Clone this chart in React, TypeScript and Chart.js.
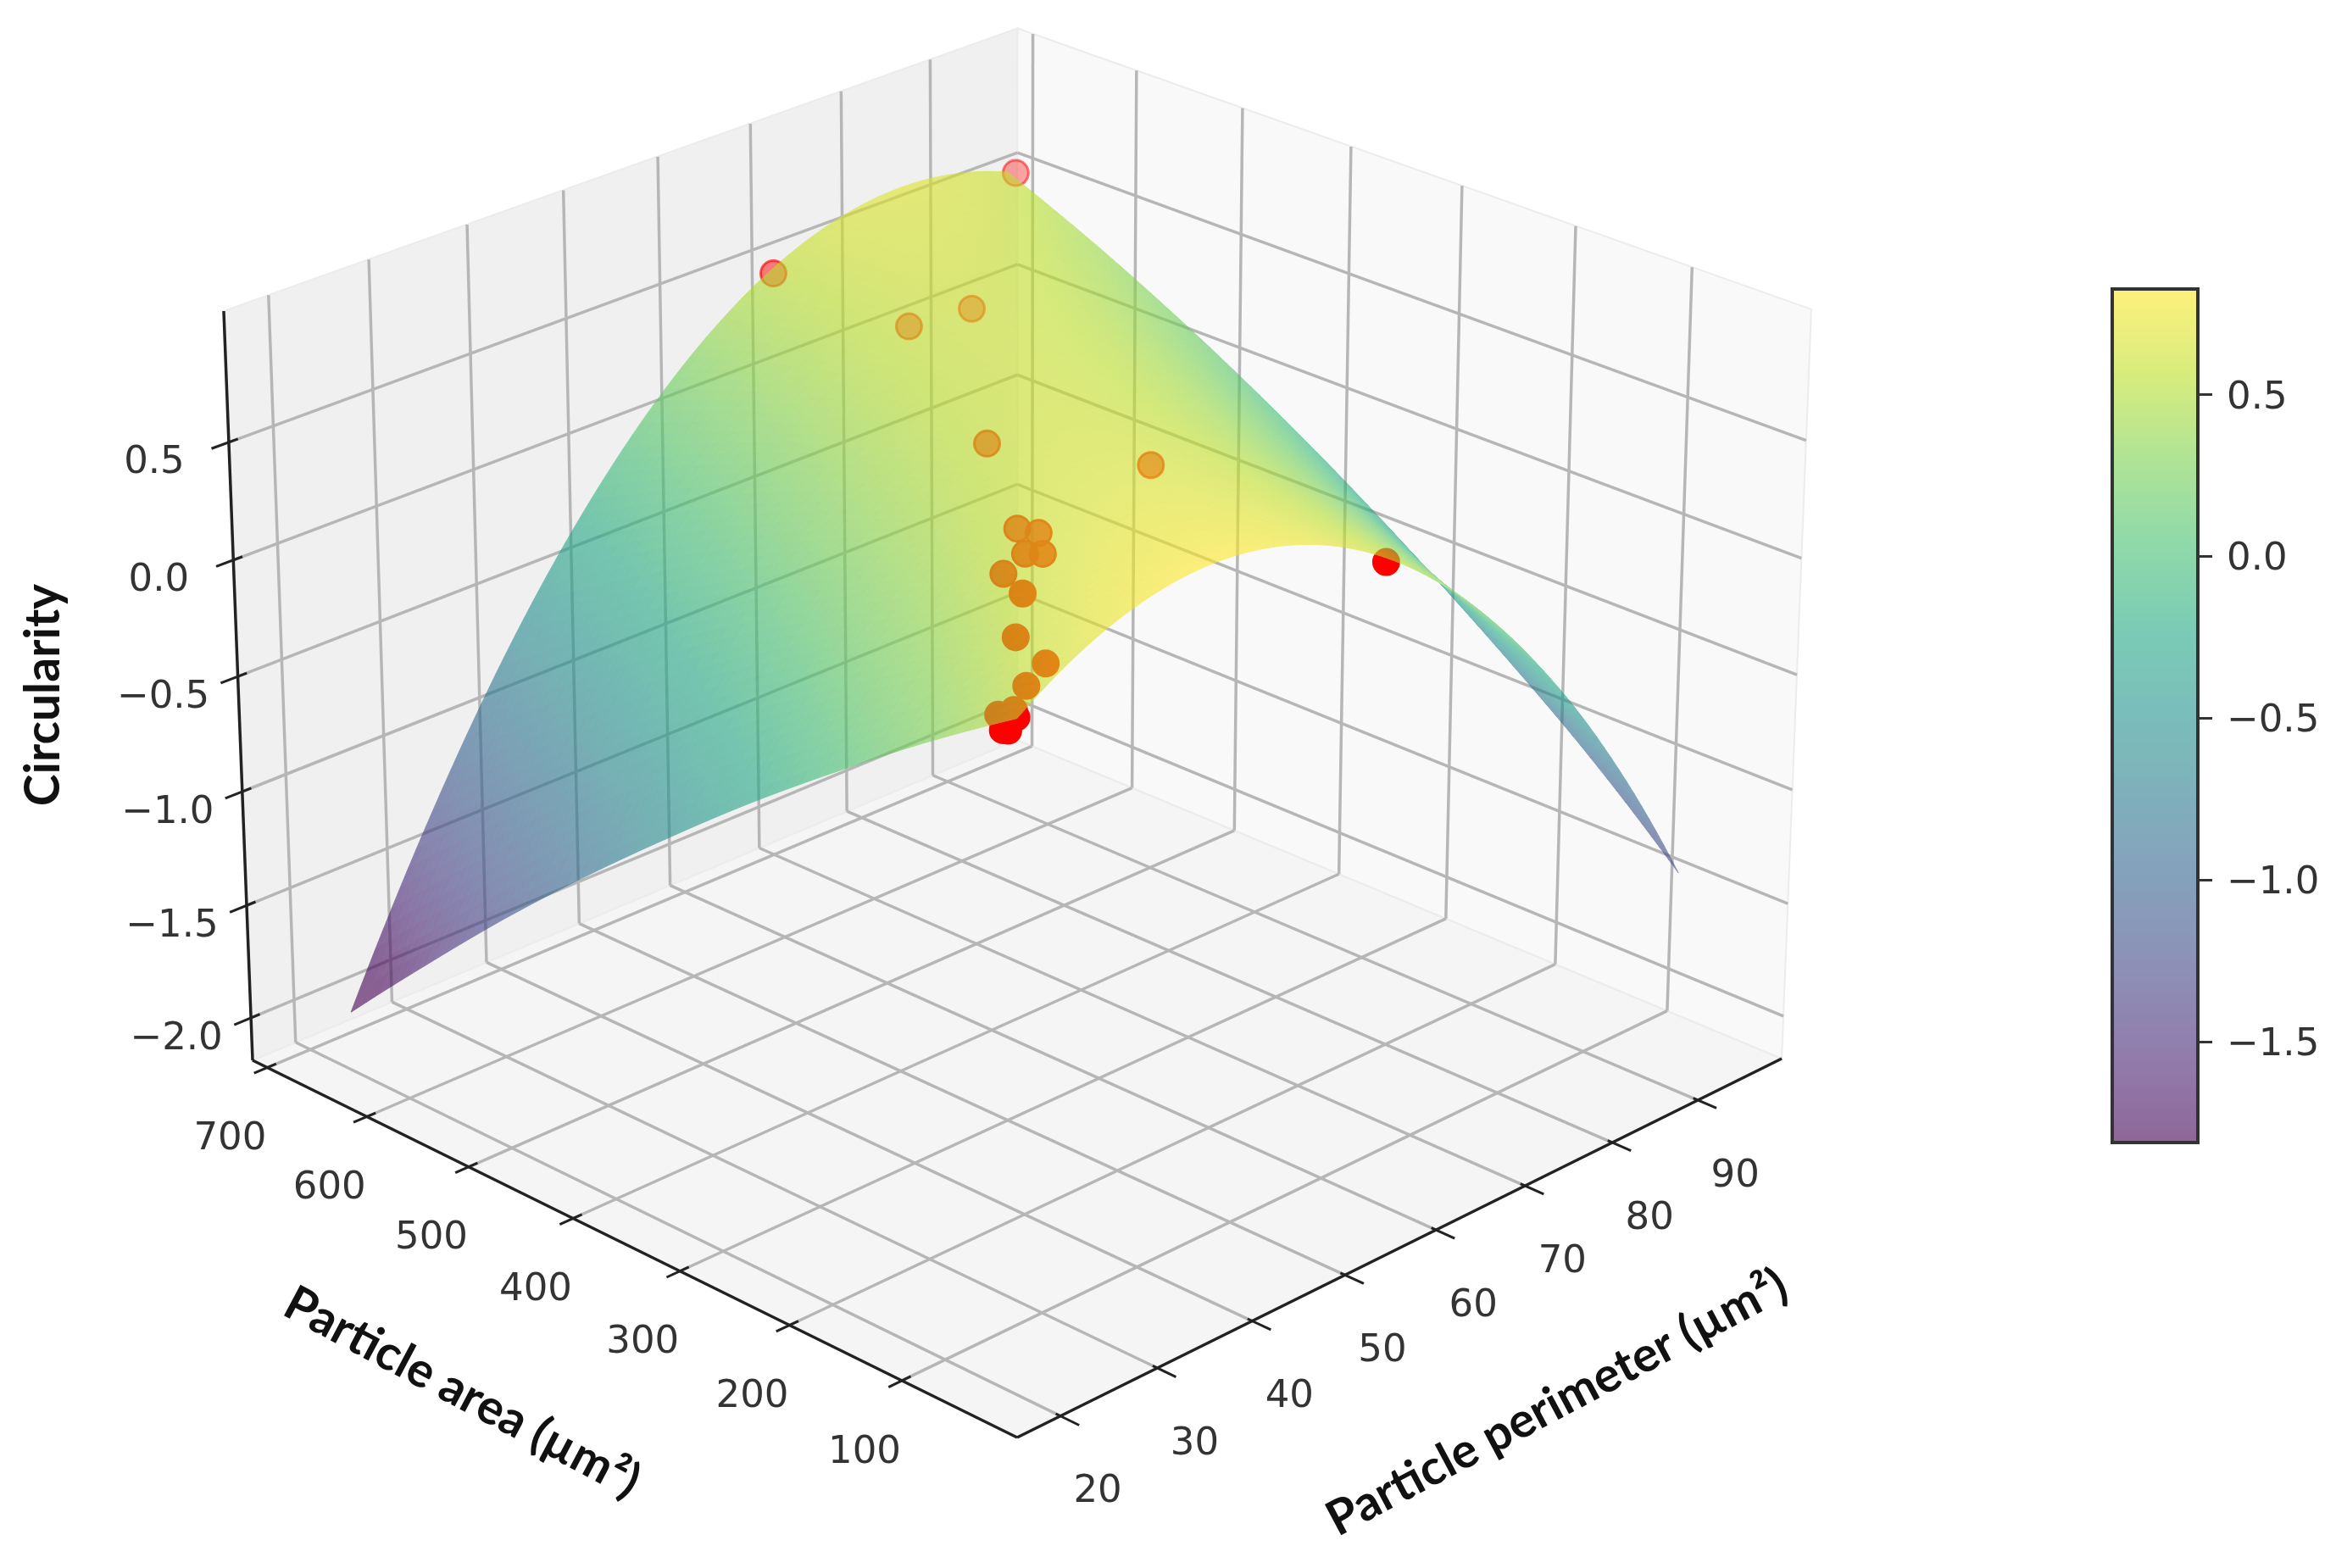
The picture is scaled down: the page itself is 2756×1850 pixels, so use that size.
import React, { useEffect, useRef } from "react";
import { Chart, registerables } from "chart.js";

Chart.register(...registerables);

const perimeterLimits = [15.6, 100];
const areaLimits = [0, 715];
const circularityLimits = [-2.19, 1.05];
const perimeterTicks = [20, 30, 40, 50, 60, 70, 80, 90];
const areaTicks = [100, 200, 300, 400, 500, 600, 700];
const circularityTicks = [-2, -1.5, -1, -0.5, 0, 0.5];
const colorbarTicks = [-1.5, -1, -0.5, 0, 0.5];
const colorLimits = [-1.81, 0.827];

const gridPerimeter = [21, 30, 39, 48, 57, 66, 75, 84, 93.2];
const gridArea = [46, 124, 201, 279, 356, 434, 512, 589, 667];
// rows follow gridPerimeter, columns follow gridArea
const gridCircularity = [
  [0.537, 0.287, 0.018, -0.268, -0.572, -0.894, -1.235, -1.594, -1.97],
  [0.746, 0.564, 0.363, 0.143, -0.095, -0.351, -0.626, -0.92, -1.232],
  [0.83, 0.717, 0.584, 0.432, 0.262, 0.073, -0.136, -0.364, -0.611],
  [0.787, 0.743, 0.68, 0.597, 0.494, 0.371, 0.229, 0.068, -0.113],
  [0.619, 0.646, 0.652, 0.638, 0.604, 0.55, 0.476, 0.382, 0.267],
  [0.325, 0.423, 0.5, 0.555, 0.591, 0.606, 0.6, 0.574, 0.527],
  [-0.095, 0.074, 0.223, 0.35, 0.456, 0.54, 0.603, 0.646, 0.667],
  [-0.64, -0.398, -0.178, 0.021, 0.197, 0.352, 0.486, 0.597, 0.688],
  [-1.34, -0.996, -0.703, -0.432, -0.184, 0.043, 0.248, 0.429, 0.589],
];

const samplePerimeter = [92.6, 67, 80, 85, 75, 85, 68, 70, 62, 65, 60, 55, 48, 45, 38, 30, 27, 24, 22, 23, 57.6];
const sampleArea = [654, 667, 650, 632, 532, 461, 444, 441, 386, 395, 389, 329, 276, 224, 182, 125, 113, 72, 62, 75, 35];
const sampleCircularity = [0.616, 0.525, 0.13, 0.165, -0.1, -0.22, -0.2, -0.245, -0.105, -0.17, -0.165, -0.055, -0.025, 0.015, 0.12, 0.265, 0.32, 0.44, 0.44, 0.4, 0.59];

const viridis = [
  [68, 1, 84], [72, 36, 117], [65, 68, 135], [53, 95, 141], [42, 120, 142], [33, 145, 140],
  [34, 168, 132], [68, 191, 112], [122, 209, 81], [189, 223, 38], [253, 231, 37],
];

function cmap(f: number) {
  const x = Math.max(0, Math.min(1, f)) * (viridis.length - 1);
  const i = Math.min(viridis.length - 2, Math.floor(x));
  const k = x - i;
  return viridis[i].map((c, n) => Math.round(c + (viridis[i + 1][n] - c) * k));
}

function norm(P: number, A: number, z: number) {
  return [
    (P - perimeterLimits[0]) / (perimeterLimits[1] - perimeterLimits[0]),
    (A - areaLimits[0]) / (areaLimits[1] - areaLimits[0]),
    (z - circularityLimits[0]) / (circularityLimits[1] - circularityLimits[0]),
  ];
}

// camera of the 3D box, giving the value plotted on the chart's x and y scales
function project(P: number, A: number, z: number) {
  const [u, v, t] = norm(P, A, z);
  const w = 1 + 0.0915 * u + 0.0915 * v - 0.0402 * t;
  return {
    x: (1094.4 * u - 874.7 * v + 1200 - 47.8 * t) / w,
    y: (-332.7 * u - 330.5 * v + 1696 - 979.7 * t) / w - 13 * u * v * t,
  };
}

const [Pa, Pb] = perimeterLimits;
const [Aa, Ab] = areaLimits;
const [Za, Zb] = circularityLimits;

function lineSet(a: number[], b: number[], color: string, width: number) {
  return {
    data: [project(a[0], a[1], a[2]), project(b[0], b[1], b[2])],
    showLine: true,
    borderColor: color,
    borderWidth: width,
    pointRadius: 0,
    fill: false,
  };
}

const GRID = "#b6b6b6";
const AXIS = "#222222";
const TEXT = "#333333";
const TICK_FAMILY = '"DejaVu Sans", Inter, sans-serif';
const fmt = (v: number) => (v < 0 ? "\u2212" : "") + Math.abs(v).toFixed(1);

function catmull(a: number, b: number, c: number, d: number, s: number) {
  return 0.5 * (2 * b + (c - a) * s + (2 * a - 5 * b + 4 * c - d) * s * s + (3 * b - a - 3 * c + d) * s * s * s);
}

function gridAt(r: number, c: number) {
  const n = gridCircularity.length - 1;
  const m = gridCircularity[0].length - 1;
  const g = (i: number, j: number): number => {
    if (i < 0) return 3 * g(0, j) - 3 * g(1, j) + g(2, j);
    if (i > n) return 3 * g(n, j) - 3 * g(n - 1, j) + g(n - 2, j);
    if (j < 0) return 3 * g(i, 0) - 3 * g(i, 1) + g(i, 2);
    if (j > m) return 3 * g(i, m) - 3 * g(i, m - 1) + g(i, m - 2);
    return gridCircularity[i][j];
  };
  const i = Math.min(n - 1, Math.floor(r));
  const j = Math.min(m - 1, Math.floor(c));
  const sr = r - i;
  const sc = c - j;
  const col = [-1, 0, 1, 2].map((d) => catmull(g(i + d, j - 1), g(i + d, j), g(i + d, j + 1), g(i + d, j + 2), sc));
  return catmull(col[0], col[1], col[2], col[3], sr);
}

function along(values: number[], s: number) {
  const i = Math.min(values.length - 2, Math.floor(s));
  return values[i] + (values[i + 1] - values[i]) * (s - i);
}

const panesPlugin = {
  id: "panes",
  beforeDatasetsDraw(chart: any) {
    const { ctx, scales } = chart;
    const panes: [number[][], string][] = [
      [[[Pa, Aa, Za], [Pb, Aa, Za], [Pb, Ab, Za], [Pa, Ab, Za]], "#f5f5f5"],
      [[[Pa, Ab, Za], [Pb, Ab, Za], [Pb, Ab, Zb], [Pa, Ab, Zb]], "#f0f0f0"],
      [[[Pb, Aa, Za], [Pb, Ab, Za], [Pb, Ab, Zb], [Pb, Aa, Zb]], "#f9f9f9"],
    ];
    ctx.save();
    panes.forEach(([pts, color]) => {
      ctx.beginPath();
      pts.forEach((p, i) => {
        const q = project(p[0], p[1], p[2]);
        const x = scales.x.getPixelForValue(q.x);
        const y = scales.y.getPixelForValue(q.y);
        if (i === 0) ctx.moveTo(x, y);
        else ctx.lineTo(x, y);
      });
      ctx.closePath();
      ctx.fillStyle = color;
      ctx.fill();
      ctx.strokeStyle = "#ececec";
      ctx.lineWidth = 2;
      ctx.stroke();
    });
    ctx.restore();
  },
};

const surfacePlugin = {
  id: "surface",
  afterDatasetsDraw(chart: any) {
    const { ctx, scales, width, height } = chart;
    const off = document.createElement("canvas");
    off.width = width;
    off.height = height;
    const o = off.getContext("2d")!;
    const sub = 10;
    const rows = (gridPerimeter.length - 1) * sub;
    const cols = (gridArea.length - 1) * sub;
    const node = (i: number, j: number) => {
      const r = i / sub;
      const c = j / sub;
      const P = along(gridPerimeter, r);
      const A = along(gridArea, c);
      const z = gridAt(r, c);
      const q = project(P, A, z);
      const [u, v] = norm(P, A, z);
      return { x: scales.x.getPixelForValue(q.x), y: scales.y.getPixelForValue(q.y), z, d: u + v };
    };
    const nodes: any[][] = [];
    for (let i = 0; i <= rows; i++) {
      nodes.push([]);
      for (let j = 0; j <= cols; j++) nodes[i].push(node(i, j));
    }
    const quads: any[] = [];
    for (let i = 0; i < rows; i++) {
      for (let j = 0; j < cols; j++) {
        const q = [nodes[i][j], nodes[i + 1][j], nodes[i + 1][j + 1], nodes[i][j + 1]];
        quads.push({ q, d: q.reduce((s, n) => s + n.d, 0), z: q.reduce((s, n) => s + n.z, 0) / 4 });
      }
    }
    quads.sort((a, b) => b.d - a.d);
    o.lineWidth = 1;
    o.lineJoin = "round";
    quads.forEach(({ q, z }) => {
      const c = cmap((z - colorLimits[0]) / (colorLimits[1] - colorLimits[0]));
      const css = `rgb(${c[0]},${c[1]},${c[2]})`;
      o.beginPath();
      q.forEach((n: any, k: number) => (k === 0 ? o.moveTo(n.x, n.y) : o.lineTo(n.x, n.y)));
      o.closePath();
      o.fillStyle = css;
      o.strokeStyle = css;
      o.fill();
      o.stroke();
    });
    ctx.save();
    ctx.globalAlpha = 0.6;
    ctx.drawImage(off, 0, 0);
    ctx.restore();
  },
};

const textPlugin = {
  id: "axisText",
  afterDraw(chart: any) {
    const { ctx, scales } = chart;
    const px = (P: number, A: number, z: number) => {
      const q = project(P, A, z);
      return [scales.x.getPixelForValue(q.x), scales.y.getPixelForValue(q.y)];
    };
    ctx.save();
    ctx.fillStyle = TEXT;
    ctx.textAlign = "center";
    ctx.textBaseline = "middle";
    ctx.font = `45px ${TICK_FAMILY}`;
    areaTicks.forEach((a) => {
      const [x, y] = px(Pa, a, Za);
      ctx.fillText(String(a), x - 44, y + 85);
    });
    perimeterTicks.forEach((p) => {
      const [x, y] = px(p, Aa, Za);
      ctx.fillText(String(p), x + 44, y + 90);
    });
    circularityTicks.forEach((c) => {
      const [x, y] = px(Pa, Ab, c);
      ctx.fillText(fmt(c), x - 88, y + 25);
    });
    const label = (s: string, x: number, y: number, angle: number) => {
      ctx.save();
      ctx.translate(x, y);
      ctx.rotate((angle * Math.PI) / 180);
      ctx.font = 'bold 57px Lato, "Open Sans", sans-serif';
      ctx.fillStyle = "#111111";
      ctx.fillText(s, 0, 0);
      ctx.restore();
    };
    label("Circularity", 52, 820, -90);
    label("Particle area (\u00b5m\u00b2)", 545, 1643, 28);
    label("Particle perimeter (\u00b5m\u00b2)", 1837, 1655, -28);
    ctx.restore();
  },
};

const colorbarFrame = {
  id: "colorbarFrame",
  afterDatasetsDraw(chart: any) {
    const { ctx, chartArea: a } = chart;
    ctx.save();
    ctx.strokeStyle = "#333333";
    ctx.lineWidth = 4;
    ctx.strokeRect(a.left, a.top, a.right - a.left, a.bottom - a.top);
    ctx.restore();
  },
};

export default function App() {
  const mainRef = useRef<HTMLCanvasElement>(null);
  const barRef = useRef<HTMLCanvasElement>(null);

  useEffect(() => {
    const lines: any[] = [];
    perimeterTicks.forEach((p) => {
      lines.push(lineSet([p, Aa, Za], [p, Ab, Za], GRID, 3.5));
      lines.push(lineSet([p, Ab, Za], [p, Ab, Zb], GRID, 3.5));
    });
    areaTicks.forEach((a) => {
      lines.push(lineSet([Pa, a, Za], [Pb, a, Za], GRID, 3.5));
      lines.push(lineSet([Pb, a, Za], [Pb, a, Zb], GRID, 3.5));
    });
    circularityTicks.forEach((c) => {
      lines.push(lineSet([Pa, Ab, c], [Pb, Ab, c], GRID, 3.5));
      lines.push(lineSet([Pb, Ab, c], [Pb, Aa, c], GRID, 3.5));
    });
    const axes = [
      lineSet([Pa, Ab, Za], [Pa, Ab, Zb], AXIS, 3.5),
      lineSet([Pa, Ab, Za], [Pa, Aa, Za], AXIS, 3.5),
      lineSet([Pa, Aa, Za], [Pb, Aa, Za], AXIS, 3.5),
      ...areaTicks.map((a) => lineSet([Pa - 1.35, a, Za], [Pa + 0.9, a, Za], AXIS, 3)),
      ...perimeterTicks.map((p) => lineSet([p, Aa - 16, Za], [p, Aa + 4, Za], AXIS, 3)),
      ...circularityTicks.map((c) => lineSet([Pa - 1.7, Ab, c], [Pa + 0.9, Ab, c], AXIS, 3)),
    ];
    // far points fade, as a 3D scatter's depth shading does
    const depth = samplePerimeter.map((p, i) => {
      const [u, v, t] = norm(p, sampleArea[i], sampleCircularity[i]);
      const d = (u + v + 0.8 * t - 1.45) / 0.98;
      return 1 - 0.65 * Math.max(0, Math.min(1, d));
    });
    const samples = {
      data: samplePerimeter.map((p, i) => project(p, sampleArea[i], sampleCircularity[i])),
      showLine: false,
      pointRadius: 15,
      pointBorderWidth: 3,
      pointBackgroundColor: depth.map((a) => `rgba(255,0,0,${a})`),
      pointBorderColor: depth.map((a) => `rgba(255,0,0,${Math.min(1, a + 0.15)})`),
    };
    const main = new Chart(mainRef.current!, {
      type: "scatter",
      data: { datasets: [samples, ...axes, ...lines] as any },
      options: {
        animation: false,
        responsive: false,
        devicePixelRatio: 1,
        events: [],
        layout: { padding: 0, autoPadding: false },
        scales: {
          x: { type: "linear", min: 0, max: 2756, display: false },
          y: { type: "linear", min: 0, max: 1850, reverse: true, display: false },
        },
        plugins: { legend: { display: false }, tooltip: { enabled: false } },
      },
      plugins: [panesPlugin, surfacePlugin, textPlugin],
    } as any);

    const bar = new Chart(barRef.current!, {
      type: "bar",
      data: {
        labels: ["Circularity"],
        datasets: [
          {
            data: [colorLimits] as any,
            barPercentage: 1,
            categoryPercentage: 1,
            backgroundColor: (c: any) => {
              const { chart } = c;
              const a = chart.chartArea;
              if (!a || !isFinite(a.top) || !isFinite(a.bottom)) return "#888888";
              const g = chart.ctx.createLinearGradient(0, a.bottom, 0, a.top);
              for (let i = 0; i <= 20; i++) {
                const m = cmap(i / 20);
                g.addColorStop(i / 20, `rgba(${m[0]},${m[1]},${m[2]},0.6)`);
              }
              return g;
            },
          },
        ],
      },
      options: {
        animation: false,
        responsive: false,
        devicePixelRatio: 1,
        events: [],
        layout: { padding: { left: 92, top: 341, bottom: 502, right: 0 } },
        scales: {
          x: { display: false },
          y: {
            type: "linear",
            position: "right",
            min: colorLimits[0],
            max: colorLimits[1],
            afterBuildTicks: (axis: any) => {
              axis.ticks = colorbarTicks.map((value) => ({ value }));
            },
            afterFit: (axis: any) => {
              axis.width = 163;
            },
            border: { display: false },
            grid: { drawOnChartArea: false, drawTicks: true, tickLength: 17, color: "#333333", lineWidth: 3 },
            ticks: {
              padding: 17,
              color: TEXT,
              align: "center",
              font: { family: "DejaVu Sans", size: 45, lineHeight: "8px" },
              callback: (v: any) => ["", fmt(Number(v))],
            },
          },
        },
        plugins: { legend: { display: false }, tooltip: { enabled: false } },
      },
      plugins: [colorbarFrame],
    } as any);

    return () => {
      main.destroy();
      bar.destroy();
    };
  }, []);

  return (
    <div style={{ position: "absolute", left: 0, top: 0, width: 2756, height: 1850, background: "#fff", overflow: "hidden" }}>
      <canvas ref={mainRef} width={2756} height={1850} style={{ position: "absolute", left: 0, top: 0 }} />
      <canvas ref={barRef} width={356} height={1850} style={{ position: "absolute", left: 2400, top: 0 }} />
    </div>
  );
}
